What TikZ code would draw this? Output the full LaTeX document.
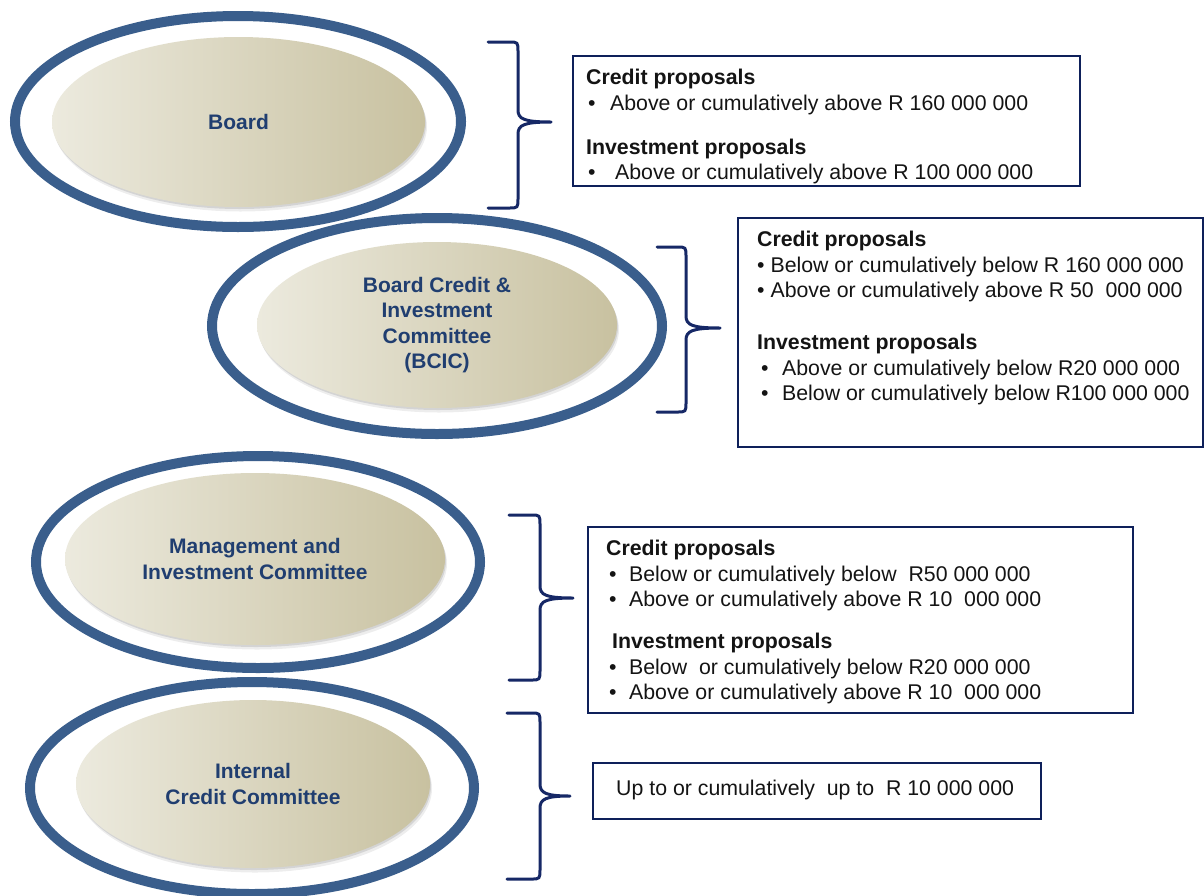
\documentclass[tikz,border=0pt]{standalone}
\usepackage{fontspec}
\setmainfont{Liberation Sans}
\usetikzlibrary{shapes.geometric,shadows}
\definecolor{ringblue}{RGB}{58,94,140}
\definecolor{ellL}{RGB}{236,234,222}
\definecolor{ellR}{RGB}{200,193,160}
\definecolor{ellText}{RGB}{32,62,112}
\definecolor{frameBlue}{RGB}{14,32,90}
\definecolor{braceBlue}{RGB}{22,40,102}
\newcommand{\mybrace}[6]{%
  \draw[bracestyle] (#1,#4) -- (#2-9,#4) .. controls (#2,#4) .. (#2,#4+10)
    -- (#2,#5-12) .. controls (#2,#5-3) and (#2+6,#5) .. (#3,#5)
    .. controls (#2+6,#5) and (#2,#5+3) .. (#2,#5+12)
    -- (#2,#6-10) .. controls (#2,#6) .. (#2-9,#6) -- (#1,#6);}
\newcommand{\bul}[2]{\makebox[#1][l]{\hspace{#2}•}}
\begin{document}
\begin{tikzpicture}[x=1pt,y=-1pt,
  ring/.style={ellipse, draw=ringblue, line width=10pt, inner sep=0pt},
  blob/.style={ellipse, inner sep=0pt, left color=ellL, right color=ellR,
    text=ellText, align=center,
    font=\fontsize{21}{25.5}\selectfont\bfseries,
    drop shadow={shadow xshift=1pt, shadow yshift=-2pt, opacity=0.10, fill=black},
    drop shadow={shadow xshift=2pt, shadow yshift=-4.5pt, opacity=0.07, fill=black}},
  frame/.style={rectangle, draw=frameBlue, line width=2.6pt, inner sep=0pt},
  txt/.style={anchor=north west, inner sep=0pt, align=left, text=black!92,
    font=\fontsize{21.3}{25.5}\selectfont},
  bracestyle/.style={draw=braceBlue, line width=3pt, line cap=round, line join=round}]
\useasboundingbox (0,0) rectangle (1204,895);
\fill[white] (0,0) rectangle (1204,895);

% rings
\node[ring, minimum width=446pt, minimum height=211pt] (boardring) at (238,121.5) {};
\node[ring, minimum width=450pt, minimum height=216pt] (bcicring) at (437,326) {};
\node[ring, minimum width=444pt, minimum height=212pt] (micring) at (258,562) {};
\node[ring, minimum width=444pt, minimum height=212pt] (iccring) at (252,788) {};

% inner ellipses
\node[blob, minimum width=373pt, minimum height=170pt] (board) at (238.5,122) {Board};
\node[blob, minimum width=360pt, minimum height=166pt] (bcic) at (437,325)
  {Board Credit \&\\Investment\\Committee\\(BCIC)};
\node[blob, minimum width=380pt, minimum height=172pt] (mic) at (255,559)
  {Management and\\Investment Committee};
\node[blob, minimum width=354pt, minimum height=168pt] (icc) at (253,784)
  {Internal\\Credit Committee};

% braces
\mybrace{488}{518}{551}{42}{122}{208}
\mybrace{657}{686}{720}{247}{328}{412}
\mybrace{509}{540}{573}{515}{598}{680}
\mybrace{507}{540}{570}{713}{796}{879}

% boxes
\node[frame, minimum width=507pt, minimum height=130pt] (box1) at (826.5,121) {};
\node[frame, minimum width=465pt, minimum height=229pt] (box2) at (970.5,332.5) {};
\node[frame, minimum width=545pt, minimum height=186pt] (box3) at (860.5,620) {};
\node[frame, minimum width=448pt, minimum height=56pt] (box4) at (817,791) {};

% box texts
\node[txt] (t1) at (586,69) {\textbf{Credit proposals}\\
\bul{24pt}{2pt}Above or cumulatively above R 160 000 000\\[18.5pt]
\textbf{Investment proposals}\\
\bul{29pt}{2pt}Above or cumulatively above R 100 000 000};

\node[txt] (t2) at (757,231) {\textbf{Credit proposals}\\
• Below or cumulatively below R 160 000 000\\
• Above or cumulatively above R 50~ 000 000\\[26.5pt]
\textbf{Investment proposals}\\
\bul{25pt}{4pt}Above or cumulatively below R20 000 000\\
\bul{25pt}{4pt}Below or cumulatively below R100 000 000};

\node[txt] (t3) at (606,540) {\textbf{Credit proposals}\\
\bul{23pt}{3pt}Below or cumulatively below~ R50 000 000\\
\bul{23pt}{3pt}Above or cumulatively above R 10~ 000 000\\[16.5pt]
\hspace*{6pt}\textbf{Investment proposals}\\
\bul{23pt}{3pt}Below~ or cumulatively below R20 000 000\\
\bul{23pt}{3pt}Above or cumulatively above R 10~ 000 000};

\node[txt, anchor=base west] (t4) at (616,795.5) {Up to or cumulatively~ up to~ R 10 000 000};
\end{tikzpicture}
\end{document}
